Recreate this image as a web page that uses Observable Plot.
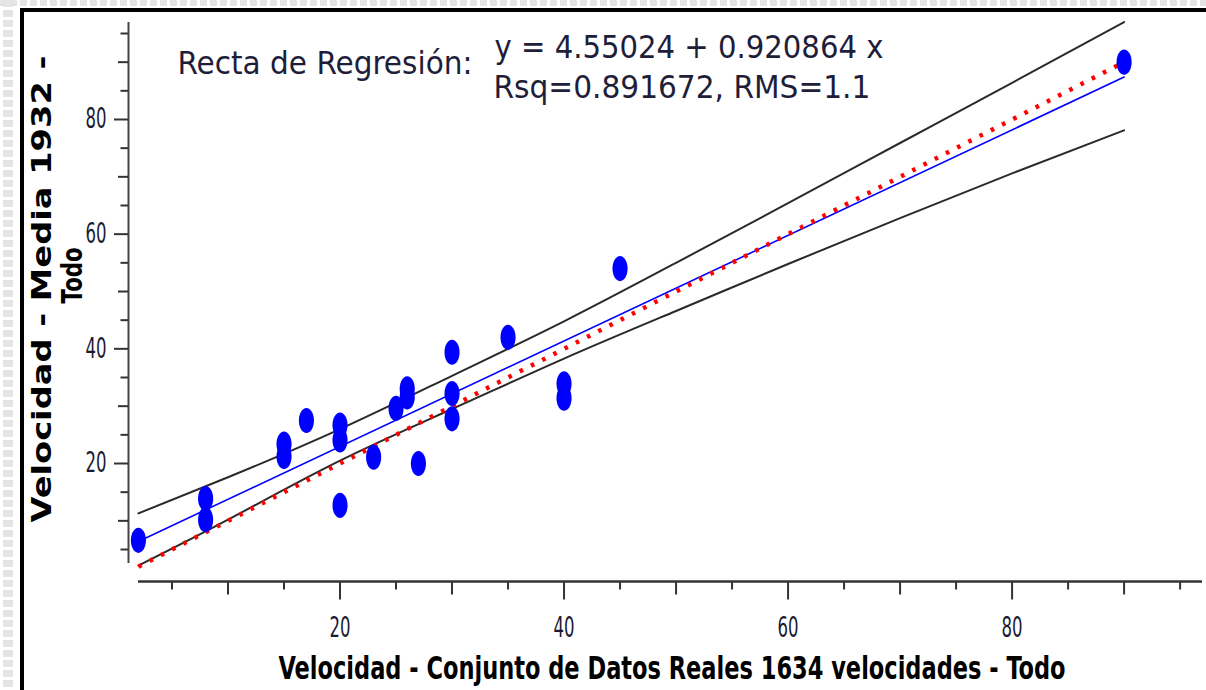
<!DOCTYPE html>
<html><head><meta charset="utf-8">
<script src="https://cdn.jsdelivr.net/npm/d3@7"></script>
<script src="https://cdn.jsdelivr.net/npm/@observablehq/plot@0.6"></script>
<style>
html,body{margin:0;padding:0;background:#fff;}
#wrap{position:relative;width:1206px;height:690px;overflow:hidden;background:#fff;}
.pat-left{position:absolute;left:3px;top:0;width:10px;height:690px;background:repeating-linear-gradient(to bottom,#e4e4e4 0 7px,transparent 7px 10px);}
.pat-top{position:absolute;left:0;top:0;width:1206px;height:6px;background:repeating-linear-gradient(to right,#e4e4e4 0 7px,transparent 7px 10px);}
.bord-left{position:absolute;left:20px;top:8px;width:4px;height:682px;background:#000;}
.bord-top{position:absolute;left:20px;top:8px;width:1186px;height:4px;background:#000;}
#chart{position:absolute;left:0;top:0;}
</style></head>
<body><div id="wrap"><div class="pat-left"></div><div class="pat-top"></div><div class="bord-left"></div><div class="bord-top"></div><div id="chart"></div></div>
<script>
// Observed points: x = real data speed, y = mean speed
const realX  = [2, 8, 8, 15, 15, 17, 20, 20, 20, 23, 25, 26, 26, 27, 30, 30, 30, 35, 40, 40, 45, 90];
const mediaY = [6.6, 13.9, 10.2, 23.4, 21.2, 27.5, 26.7, 24.1, 12.7, 21.1, 29.6, 33.0, 31.6, 20.0, 39.4, 32.2, 27.8, 42.0, 33.9, 31.4, 54.0, 90.0];

// Confidence band lines
const bandX     = [2, 10, 20, 30, 40, 50, 60, 70, 80, 90];
const bandUpper = [11.3, 17.6, 26.0, 35.3, 44.8, 55.0, 65.4, 75.9, 86.4, 97.0];
const bandLower = [2.2, 10.2, 20.5, 29.5, 38.3, 46.6, 54.8, 62.8, 70.6, 78.1];

// Regression line end points and identity line
const fitX = [2, 90];
const fitY = [6.4, 87.4];
const identityX = [2, 90];
const identityY = [2, 90];

// Ticks
const ticksMinor = [5, 15, 25, 35, 45, 55, 65, 75, 85, 95];
const ticksMid   = [10, 30, 50, 70, 90];
const ticksMajor = [20, 40, 60, 80];

// Texts
const xTitle = "Velocidad - Conjunto de Datos Reales 1634 velocidades - Todo";
const yTitle1 = "Velocidad - Media 1932 -";
const yTitle2 = "Todo";
const annotLabel = "Recta de Regresión:";
const annotEq = "y = 4.55024 + 0.920864 x";
const annotFit = "Rsq=0.891672, RMS=1.1";

const xDomain = [1.116, 97];
const yDomain = [-0.58, 97.44];

const condensed = "'DejaVu Sans Condensed', 'DejaVu Sans', sans-serif";
const tickColor = "#1a1a33";

const ellipse = {
  draw(ctx, size) {
    const r = Math.sqrt(size / Math.PI);
    const rx = r * 0.6, ry = r, k = 0.5523;
    ctx.moveTo(rx, 0);
    ctx.bezierCurveTo(rx, ry * k, rx * k, ry, 0, ry);
    ctx.bezierCurveTo(-rx * k, ry, -rx, ry * k, -rx, 0);
    ctx.bezierCurveTo(-rx, -ry * k, -rx * k, -ry, 0, -ry);
    ctx.bezierCurveTo(rx * k, -ry, rx, -ry * k, rx, 0);
    ctx.closePath();
  }
};

const axisCommon = {stroke: "#333", strokeWidth: 2, fill: tickColor, fontSize: 28, fontFamily: condensed};
const blank = () => "";

const chart = Plot.plot({
  width: 1206,
  height: 690,
  marginLeft: 128,
  marginRight: 4,
  marginTop: 19,
  marginBottom: 109,
  style: {background: "transparent", overflow: "visible", fontFamily: condensed},
  x: {domain: xDomain, label: null},
  y: {domain: yDomain, label: null},
  marks: [
    // axis lines
    Plot.ruleY([yDomain[0]], {insetLeft: 10, stroke: "#333", strokeWidth: 2.5}),
    Plot.ruleX([xDomain[0]], {insetTop: 3, insetBottom: 18, stroke: "#444", strokeWidth: 2}),
    // x ticks
    Plot.axisX(ticksMinor, {...axisCommon, anchor: "bottom", tickSize: 8.5, tickFormat: blank, label: null}),
    Plot.axisX(ticksMid, {...axisCommon, anchor: "bottom", tickSize: 13.5, tickFormat: blank, label: null}),
    Plot.axisX(ticksMajor, {...axisCommon, anchor: "bottom", tickSize: 18.5, tickPadding: 17, label: null}),
    // y ticks
    Plot.axisY(ticksMinor, {...axisCommon, anchor: "left", tickSize: 7.5, tickFormat: blank, label: null}),
    Plot.axisY(ticksMid, {...axisCommon, anchor: "left", tickSize: 10, tickFormat: blank, label: null}),
    Plot.axisY(ticksMajor, {...axisCommon, anchor: "left", tickSize: 14, tickPadding: 8, label: null}),
    // bands
    Plot.line(bandUpper, {x: bandX, y: bandUpper, stroke: "#2a2a2a", strokeWidth: 2, curve: "natural"}),
    Plot.line(bandLower, {x: bandX, y: bandLower, stroke: "#2a2a2a", strokeWidth: 2, curve: "natural"}),
    // regression line
    Plot.line(fitY, {x: fitX, y: fitY, stroke: "#0000ff", strokeWidth: 1.6}),
    // identity dotted
    Plot.line(identityY, {x: identityX, y: identityY, stroke: "#ff0000", strokeWidth: 4.5, strokeLinecap: "butt", strokeDasharray: "3.6,9"}),
    // points
    Plot.dot(mediaY, {x: realX, y: mediaY, r: 12.6, symbol: ellipse, fill: "#0000ff", stroke: "none"}),
    // annotations
    Plot.text([annotLabel], {text: d => d, frameAnchor: "top-left", dx: 49, dy: 54, lineAnchor: "bottom", textAnchor: "start", fontSize: 32, fontFamily: condensed, fill: "#1e1e3a"}),
    Plot.text([annotEq], {text: d => d, frameAnchor: "top-left", dx: 366, dy: 38, lineAnchor: "bottom", textAnchor: "start", fontSize: 32, fontFamily: condensed, fill: "#1e1e3a"}),
    Plot.text([annotFit], {text: d => d, frameAnchor: "top-left", dx: 365, dy: 78, lineAnchor: "bottom", textAnchor: "start", fontSize: 32, fontFamily: condensed, fill: "#1e1e3a"}),
    // axis titles
    Plot.text([xTitle], {text: d => d, frameAnchor: "bottom", dx: 6.5, dy: 97, lineAnchor: "bottom", textAnchor: "middle", fontSize: 32, fontWeight: "bold", fontFamily: condensed, fill: "#000"}),
    Plot.text([yTitle1], {text: d => d, frameAnchor: "left", rotate: -90, dx: -78, dy: -11.5, lineAnchor: "bottom", textAnchor: "middle", fontSize: 27, fontWeight: "bold", fontFamily: "'DejaVu Sans', sans-serif", fill: "#000"}),
    Plot.text([yTitle2], {text: d => d, frameAnchor: "left", rotate: -90, dx: -47, dy: -25, lineAnchor: "bottom", textAnchor: "middle", fontSize: 28, fontWeight: "bold", fontFamily: "'DejaVu Sans', sans-serif", fill: "#000"})
  ]
});

document.getElementById("chart").appendChild(chart);

// narrow tick digits: fit them to the reference's width
const tickLabelWidth = 21;
chart.querySelectorAll("text").forEach(t => {
  if (ticksMajor.map(String).includes(t.textContent)) {
    t.setAttribute("textLength", tickLabelWidth);
    t.setAttribute("lengthAdjust", "spacingAndGlyphs");
  }
});

// squeeze titles and notes along their own direction to match the reference's narrow lettering
const lengths = {};
lengths[xTitle] = 787;
lengths[yTitle1] = 467;
lengths[yTitle2] = 56;
lengths[annotLabel] = 295;
lengths[annotEq] = 389;
lengths[annotFit] = 377;
chart.querySelectorAll("text").forEach(t => {
  const L = lengths[t.textContent];
  if (!L) return;
  const natural = t.getComputedTextLength();
  if (!natural) return;
  const s = L / natural;
  let tr = t.getAttribute("transform") || "";
  const x = t.getAttribute("x"), y = t.getAttribute("y");
  if (x != null || y != null) {
    tr = `translate(${x || 0},${y || 0}) ` + tr;
    t.removeAttribute("x");
    t.removeAttribute("y");
  }
  t.setAttribute("transform", `${tr} scale(${s},1)`);
});
</script>
</body></html>
